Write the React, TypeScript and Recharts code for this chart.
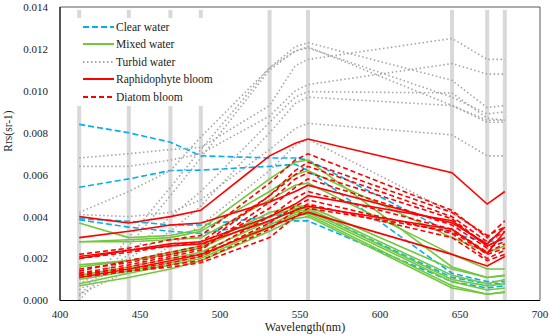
import {
  LineChart,
  Line,
  XAxis,
  YAxis,
  ReferenceLine,
  ReferenceArea,
  Legend,
  Label,
} from "recharts";

const wavelengths = [412, 443, 469, 488, 531, 547, 555, 645, 667, 678];
const bands = [412, 443, 469, 488, 531, 555, 645, 667, 678];
const xTicks = [400, 450, 500, 550, 600, 650, 700];
const yTicks = [0, 0.002, 0.004, 0.006, 0.008, 0.01, 0.012, 0.014];

const clearWater = [
  [0.0084, 0.008, 0.00755, 0.0069, 0.0068, 0.0068, 0.0067, 0.0032, 0.0028, 0.0029],
  [0.0054, 0.0058, 0.0062, 0.00622, 0.0064, 0.0065, 0.0062, 0.0013, 0.0009, 0.0009],
  [0.0039, 0.00378, 0.0036, 0.0036, 0.004, 0.0042, 0.0043, 0.0011, 0.0008, 0.0008],
  [0.00385, 0.0035, 0.0033, 0.0032, 0.0037, 0.0038, 0.0038, 0.0009, 0.0006, 0.0007],
];

const mixedWater = [
  [0.0037, 0.003, 0.0031, 0.0034, 0.0058, 0.0066, 0.0067, 0.0016, 0.0011, 0.0012],
  [0.0028, 0.0029, 0.003, 0.0033, 0.0052, 0.006, 0.0062, 0.003, 0.0023, 0.0026],
  [0.0028, 0.0028, 0.0029, 0.003, 0.0048, 0.0055, 0.0056, 0.0022, 0.0015, 0.0015],
  [0.0017, 0.0019, 0.0022, 0.0025, 0.004, 0.0044, 0.0044, 0.0012, 0.0008, 0.001],
  [0.0012, 0.0016, 0.002, 0.0023, 0.0038, 0.0043, 0.0043, 0.001, 0.0007, 0.0008],
  [0.001, 0.0014, 0.0018, 0.0021, 0.0036, 0.0042, 0.0042, 0.0009, 0.0005, 0.0006],
  [0.0008, 0.0013, 0.0017, 0.002, 0.0035, 0.0041, 0.0041, 0.0007, 0.0003, 0.0004],
  [0.0007, 0.0011, 0.0015, 0.0019, 0.0033, 0.0039, 0.004, 0.0006, 0.0003, 0.0004],
  [0.0016, 0.0019, 0.0023, 0.0026, 0.0042, 0.0045, 0.0045, 0.0015, 0.0011, 0.0012],
];

const turbidWater = [
  [0.0068, 0.007, 0.0072, 0.0073, 0.0093, 0.0112, 0.0115, 0.0125, 0.0115, 0.0115],
  [0.0064, 0.0064, 0.0067, 0.007, 0.0088, 0.01, 0.0103, 0.0113, 0.0108, 0.0108],
  [0.0002, 0.003, 0.0054, 0.0072, 0.0111, 0.0121, 0.0123, 0.0105, 0.0092, 0.0093],
  [0.0, 0.0026, 0.005, 0.0068, 0.011, 0.0119, 0.0121, 0.0093, 0.0086, 0.0086],
  [0.0042, 0.0052, 0.0062, 0.0078, 0.0111, 0.0119, 0.01205, 0.0097, 0.0089, 0.009],
  [0.0005, 0.0022, 0.004, 0.0052, 0.0085, 0.0097, 0.00996, 0.0099, 0.0087, 0.0086],
  [0.0008, 0.002, 0.0033, 0.0045, 0.008, 0.0094, 0.0097, 0.0093, 0.0085, 0.0085],
  [0.0041, 0.004, 0.0042, 0.0048, 0.0072, 0.0082, 0.00845, 0.0079, 0.0069, 0.0069],
  [0.0003, 0.0014, 0.0026, 0.0036, 0.0062, 0.0074, 0.0077, 0.0042, 0.003, 0.003],
];

const raphidophyte = [
  [0.004, 0.0037, 0.004, 0.0043, 0.0069, 0.0075, 0.0077, 0.0061, 0.0046, 0.0052],
  [0.003, 0.0033, 0.0036, 0.0037, 0.0047, 0.0052, 0.0055, 0.0037, 0.0027, 0.0035],
  [0.002, 0.0024, 0.0026, 0.0027, 0.0038, 0.0043, 0.0045, 0.0034, 0.00225, 0.0033],
  [0.0021, 0.0024, 0.0027, 0.0028, 0.004, 0.0046, 0.005, 0.0038, 0.0026, 0.003],
  [0.0011, 0.0015, 0.0019, 0.0022, 0.0035, 0.004, 0.0042, 0.0022, 0.00165, 0.0021],
];

const diatom = [
  [0.0022, 0.0025, 0.0029, 0.0031, 0.0056, 0.0067, 0.007, 0.0043, 0.003, 0.0038],
  [0.0014, 0.0019, 0.0023, 0.0026, 0.005, 0.006, 0.0064, 0.004, 0.0028, 0.0033],
  [0.0013, 0.0017, 0.0021, 0.0024, 0.0047, 0.0058, 0.0061, 0.0039, 0.0026, 0.003],
  [0.0015, 0.0018, 0.0022, 0.0025, 0.0044, 0.0054, 0.0058, 0.0036, 0.0025, 0.0028],
  [0.0012, 0.0016, 0.002, 0.0022, 0.004, 0.0049, 0.0052, 0.0034, 0.0023, 0.0027],
  [0.0013, 0.0015, 0.0018, 0.0021, 0.0037, 0.0045, 0.0048, 0.0032, 0.002, 0.0024],
  [0.0011, 0.0014, 0.0017, 0.0019, 0.0034, 0.0043, 0.0046, 0.003, 0.0019, 0.0022],
  [0.002, 0.0023, 0.0026, 0.0028, 0.005, 0.0062, 0.0066, 0.0042, 0.0031, 0.0035],
  [0.0012, 0.0014, 0.0016, 0.0018, 0.003, 0.004, 0.0044, 0.0033, 0.0022, 0.0025],
];

const font = "Liberation Serif, Times New Roman, serif";

const groups = [
  { key: "clear", name: "Clear water", lines: clearWater, color: "#00b0f0", dash: "6 3" },
  { key: "mixed", name: "Mixed water", lines: mixedWater, color: "#70c83c", dash: undefined },
  { key: "turbid", name: "Turbid water", lines: turbidWater, color: "#a6a6a6", dash: "1.5 2.5" },
  { key: "raph", name: "Raphidophyte bloom", lines: raphidophyte, color: "#ff0000", dash: undefined },
  { key: "diatom", name: "Diatom bloom", lines: diatom, color: "#ff0000", dash: "5 3" },
];

const data = wavelengths.map((wl, i) => {
  const row: Record<string, number> = { wl };
  groups.forEach((g) => g.lines.forEach((l, j) => (row[`${g.key}${j}`] = l[i])));
  return row;
});

function LegendBox() {
  return (
    <div style={{ background: "#fff", width: 150, height: 88, fontFamily: font, fontSize: 11.5, color: "#222" }}>
      {groups.map((g) => (
        <div key={g.key} style={{ display: "flex", alignItems: "center", height: 17.5 }}>
          <svg width={31} height={6} style={{ marginLeft: 17, marginRight: 2 }}>
            <line x1={0} y1={3} x2={31} y2={3} stroke={g.color} strokeWidth={2} strokeDasharray={g.dash} />
          </svg>
          <span>{g.name}</span>
        </div>
      ))}
    </div>
  );
}

const tickStyle = { fontSize: 11, fill: "#222", fontFamily: font, style: { fontFamily: font } };

export default function App() {
  return (
    <div style={{ position: "absolute", left: 0, top: 0, width: 550, height: 335, background: "#fff", fontFamily: font }}>
      <LineChart
        width={550}
        height={335}
        data={data}
        margin={{ top: 7, right: 10, bottom: 0, left: 0 }}
        style={{ fontFamily: font }}
      >
        {bands.map((b) => (
          <ReferenceLine
            key={b}
            segment={[{ x: b, y: 0 }, { x: b, y: 0.01386 }]}
            stroke="#d9d9d9"
            strokeWidth={4}
            zIndex={-50}
          />
        ))}
        <XAxis
          type="number"
          dataKey="wl"
          domain={[400, 700]}
          ticks={xTicks}
          tickLine={false}
          tickMargin={3.5}
          axisLine={{ stroke: "#000" }}
          tick={tickStyle}
          height={34.5}
        >
          <Label
            value="Wavelength(nm)"
            position="insideBottom"
            offset={4}
            dx={5}
            fontFamily={font}
            style={{ fontFamily: font, fontSize: 12, fill: "#222" }}
          />
        </XAxis>
        <YAxis
          type="number"
          domain={[0, 0.014]}
          ticks={yTicks}
          tickLine={false}
          tickMargin={6}
          width={60}
          axisLine={{ stroke: "#000" }}
          tickFormatter={(v: number) => v.toFixed(3)}
          tick={tickStyle}
        >
          <Label
            content={() => (
              <text
                x={8}
                y={131}
                transform="rotate(-90 8 131)"
                textAnchor="middle"
                dominantBaseline="central"
                style={{ fontFamily: font, fontSize: 11.5, fill: "#222" }}
              >
                Rrs(sr-1)
              </text>
            )}
          />
        </YAxis>
        <ReferenceArea x1={400} x2={700} y1={0} y2={0.014} fill="none" stroke="#595959" strokeWidth={1} />
        {groups.map((g) =>
          g.lines.map((_, j) => (
            <Line
              key={`${g.key}${j}`}
              dataKey={`${g.key}${j}`}
              stroke={g.color}
              strokeWidth={1.6}
              strokeDasharray={g.dash}
              dot={false}
              isAnimationActive={false}
            />
          ))
        )}
        <Legend
          layout="vertical"
          align="center"
          verticalAlign="middle"
          content={() => <LegendBox />}
          wrapperStyle={{ left: 66, top: 18, width: 150, height: 88 }}
        />
      </LineChart>
    </div>
  );
}
